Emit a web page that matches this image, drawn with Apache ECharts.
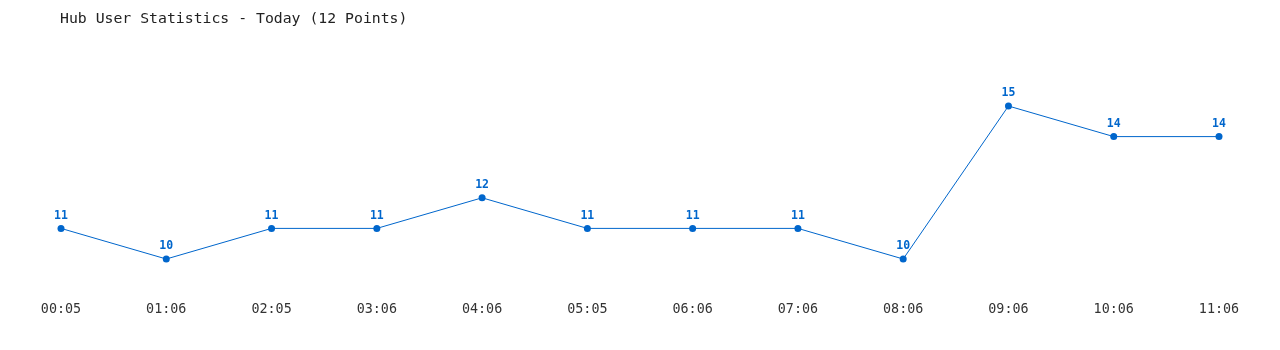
<!DOCTYPE html>
<html><head><meta charset="utf-8">
<script src="https://cdn.jsdelivr.net/npm/echarts@6/dist/echarts.min.js"></script>
<style>html,body{margin:0;padding:0;background:#fff}#c{width:1280px;height:350px}</style>
</head><body><div id="c"></div>
<script>
const titleText = 'Hub User Statistics - Today (12 Points)';
const categories = ['00:05','01:06','02:05','03:06','04:06','05:05','06:06','07:06','08:06','09:06','10:06','11:06'];
const users = [11,10,11,11,12,11,11,11,10,15,14,14];
const chart = echarts.init(document.getElementById('c'), null, {renderer:'canvas'});
chart.setOption({
  animation:false,
  backgroundColor:'#fff',
  title:{text:titleText,left:55,top:7,textStyle:{fontFamily:'DejaVu Sans Mono',fontSize:14.8,fontWeight:'normal',color:'#222'}},
  grid:{left:61,right:61,top:75.4,bottom:60.4},
  xAxis:{type:'category',data:categories,boundaryGap:false,
    axisLine:{show:false},axisTick:{show:false},splitLine:{show:false},
    axisLabel:{fontFamily:'DejaVu Sans Mono',fontSize:13.4,color:'#333',margin:13,interval:0}},
  yAxis:{type:'value',min:9,max:16,show:false,splitLine:{show:false}},
  series:[{type:'line',data:users,symbol:'circle',symbolSize:7,
    itemStyle:{color:'#0066cc'},lineStyle:{color:'#0066cc',width:1},
    label:{show:true,position:'top',distance:3,fontFamily:'DejaVu Sans Mono',fontSize:11.5,fontWeight:'bold',color:'#0066cc'}}]
});
</script></body></html>
